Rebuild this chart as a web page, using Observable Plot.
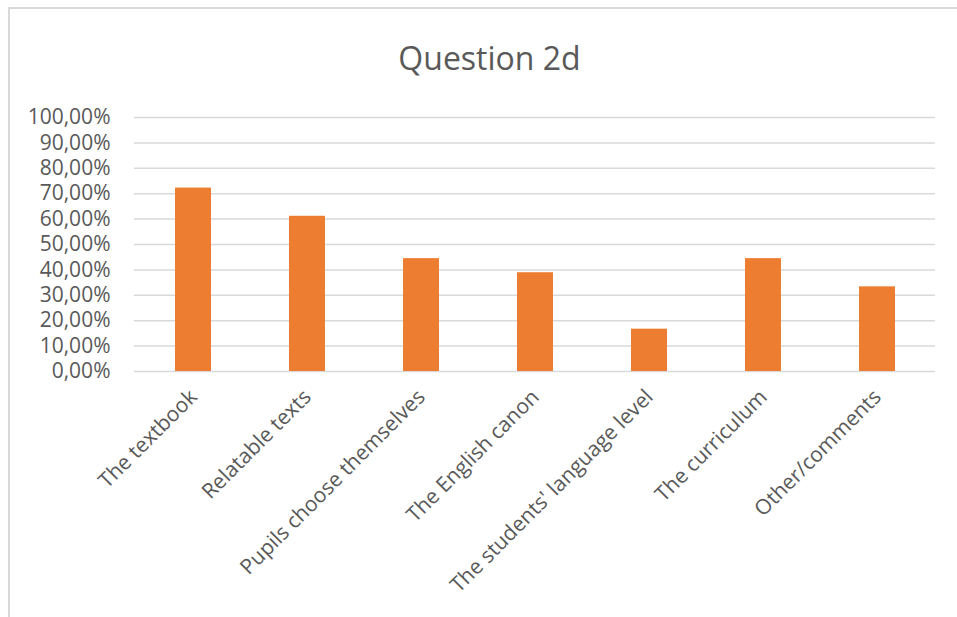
<!DOCTYPE html>
<html>
<head>
<meta charset="utf-8">
<script src="https://cdn.jsdelivr.net/npm/d3@7"></script>
<script src="https://cdn.jsdelivr.net/npm/@observablehq/plot@0.6"></script>
<style>
  html, body { margin: 0; padding: 0; background: #fff; }
  #wrap { position: relative; width: 957px; height: 617px; overflow: hidden; font-family: "Open Sans", sans-serif; }
  #frame { position: absolute; left: 8px; top: 7px; width: 960px; height: 620px; border-top: 2px solid #d9d9d9; border-left: 2px solid #d9d9d9; box-sizing: border-box; }
  #title { position: absolute; left: 0; width: 979px; top: 36px; text-align: center; font-size: 32px; color: #595959; line-height: 44px; }
  #chart { position: absolute; left: 0; top: 0; }
</style>
</head>
<body>
<div id="wrap">
  <div id="chart"></div>
  <div id="frame"></div>
  <div id="title">Question 2d</div>
</div>
<script>
const categories = ["The textbook", "Relatable texts", "Pupils choose themselves", "The English canon", "The students' language level", "The curriculum", "Other/comments"];
const values = [0.7222, 0.6111, 0.4444, 0.3889, 0.1667, 0.4444, 0.3333];
const yTicks = [0, 0.1, 0.2, 0.3, 0.4, 0.5, 0.6, 0.7, 0.8, 0.9, 1.0];

const data = categories.map((c, i) => ({category: c, value: values[i]}));
const fmt = d => (d * 100).toFixed(2).replace(".", ",") + "%";

const plot = Plot.plot({
  width: 957,
  height: 617,
  marginLeft: 134,
  marginRight: 22,
  marginTop: 117,
  marginBottom: 246,
  style: {fontFamily: "Open Sans, sans-serif", fontSize: "21px", color: "#595959", background: "transparent"},
  x: {domain: categories, paddingInner: 0.686, paddingOuter: 0.343, label: null},
  y: {domain: [0, 1], label: null},
  marks: [
    Plot.gridY(yTicks, {stroke: "#d9d9d9", strokeOpacity: 1, strokeWidth: 1.5}),
    Plot.barY(data, {x: "category", y: "value", fill: "#ED7D31"}),
    Plot.axisY(yTicks, {tickSize: 0, tickPadding: 24, tickFormat: fmt, fontSize: 21, label: null}),
    Plot.axisX({tickSize: 0, tickRotate: -45, tickPadding: 22, fontSize: 21, label: null})
  ]
});
document.getElementById("chart").appendChild(plot);
</script>
</body>
</html>
